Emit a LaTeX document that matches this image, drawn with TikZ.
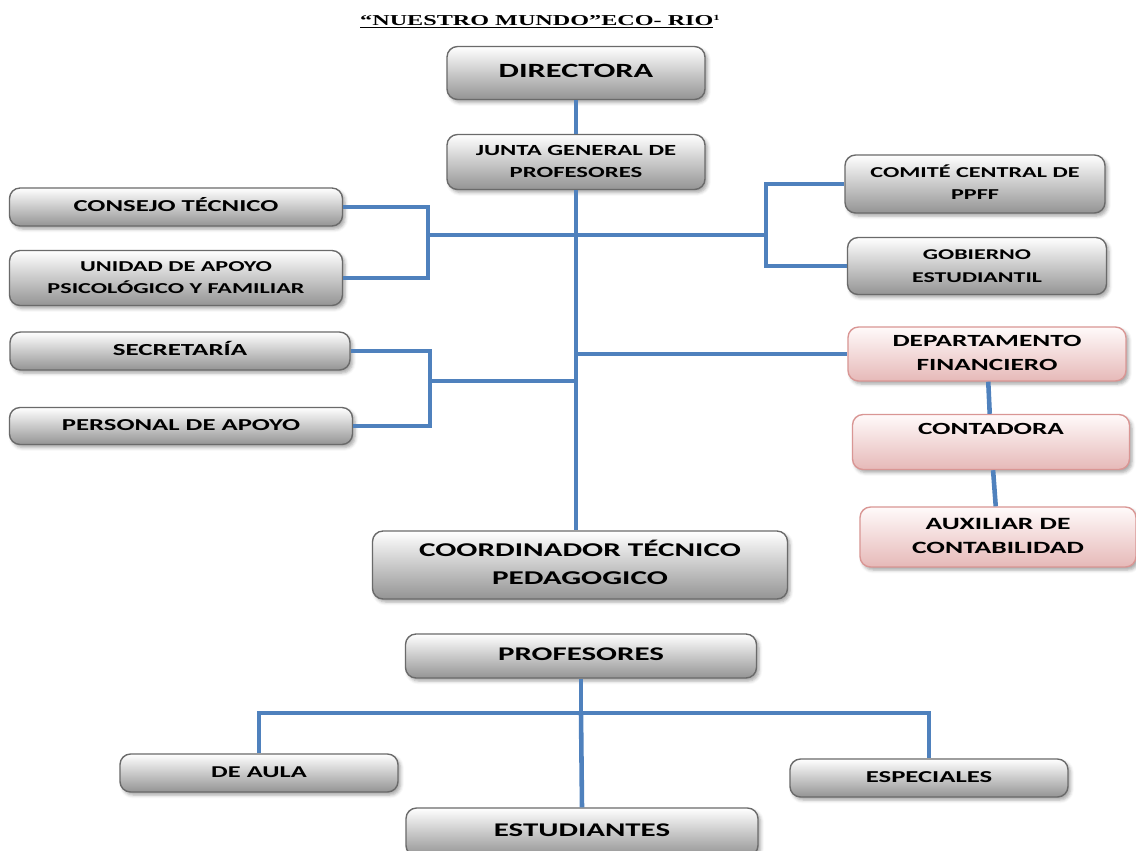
\documentclass[tikz,border=0pt]{standalone}
\usepackage{fontspec}
\setmainfont{Carlito}
\newfontfamily\titlefont{Liberation Serif}
\usepackage{graphicx}
\usetikzlibrary{shadows.blur,calc}
\definecolor{linkblue}{HTML}{4F81BD}
\definecolor{boxedge}{HTML}{6A6A6A}
\definecolor{pinkedge}{HTML}{D99694}
\definecolor{pinkfill}{HTML}{E6B9B8}
\newcommand{\wide}[2]{\scalebox{#1}[1]{\begin{tabular}{@{}c@{}}#2\end{tabular}}}

\begin{document}
\begin{tikzpicture}[
  x=0.02cm, y=-0.02cm,
  box/.style={rectangle, draw=boxedge, line width=0.8pt, rounded corners=6pt, top color=white, bottom color=black!42, align=center, inner sep=0pt,
    blur shadow={shadow blur steps=4, shadow xshift=0.5mm, shadow yshift=-0.6mm, shadow opacity=35}},
  pinkbox/.style={box, draw=pinkedge, top color=red!2, bottom color=pinkfill},
  wh/.style 2 args={minimum width=#1*0.02cm, minimum height=#2*0.02cm},
  fs/.style 2 args={font=\bfseries\fontsize{#1}{#2}\selectfont},
  link/.style={draw=linkblue, line width=2.6pt}
]
  \useasboundingbox (0,0) rectangle (1136,850);

  \node[font=\titlefont\bfseries\fontsize{8.6}{10}\selectfont] (title) at (540,22)
    {\scalebox{1.6}[1]{\underline{“NUESTRO MUNDO”ECO- RIO}\raisebox{0.7ex}{\fontsize{4.5}{5}\selectfont 1}}};

  \node[box, wh={258}{53}, fs={11.5}{14}] (directora) at (576,73) {\wide{1.6}{DIRECTORA}};
  \node[box, wh={258}{55}, fs={8.8}{13}] (junta) at (576,162) {\wide{1.6}{JUNTA GENERAL DE\\PROFESORES}};
  \node[box, wh={333}{38}, fs={9.5}{13}] (consejo) at (176,207) {\wide{1.6}{CONSEJO TÉCNICO}};
  \node[box, wh={333}{55}, fs={8.6}{12.5}] (unidad) at (176,278) {\wide{1.6}{UNIDAD DE APOYO\\PSICOLÓGICO Y FAMILIAR}};
  \node[box, wh={260}{58}, fs={8.6}{13}] (comite) at (975,184) {\wide{1.6}{COMITÉ CENTRAL DE\\PPFF}};
  \node[box, wh={259}{57}, fs={8.5}{13}] (gobierno) at (977,266) {\wide{1.6}{GOBIERNO\\ESTUDIANTIL}};
  \node[box, wh={340}{38}, fs={9.6}{13}] (secretaria) at (180,351) {\wide{1.6}{SECRETARÍA}};
  \node[box, wh={343}{37}, fs={9.5}{13}] (personal) at (181,426) {\wide{1.6}{PERSONAL DE APOYO}};
  \node[pinkbox, wh={278}{54}, fs={9.7}{13.5}] (depto) at (987,354) {\wide{1.6}{DEPARTAMENTO\\FINANCIERO}};
  \node[pinkbox, wh={277}{55}, fs={9.7}{13.5}] (contadora) at (991,442) {\wide{1.6}{CONTADORA\\\strut}};
  \node[pinkbox, wh={276}{60}, fs={9.8}{13.5}] (auxiliar) at (998,537) {\wide{1.6}{AUXILIAR DE\\CONTABILIDAD}};
  \node[box, wh={415}{68}, fs={11.1}{16}] (coordinador) at (580,565) {\wide{1.6}{COORDINADOR TÉCNICO\\PEDAGOGICO}};
  \node[box, wh={351}{44}, fs={11}{13}] (profesores) at (581,656) {\wide{1.6}{PROFESORES}};
  \node[box, wh={278}{38}, fs={9.4}{13}] (aula) at (259,773) {\wide{1.6}{DE AULA}};
  \node[box, wh={278}{38}, fs={9.5}{13}] (especiales) at (929,778) {\wide{1.6}{ESPECIALES}};
  \node[box, wh={352}{48}, fs={11}{13}] (estudiantes) at (582,832) {\wide{1.6}{ESTUDIANTES}};

  \coordinate (izq1) at (428,235);
  \coordinate (der1) at (766,235);
  \coordinate (izq2) at (430,381);
  \coordinate (bus) at (582,713);

  \draw[link] (directora) -- (junta);
  \draw[link] (junta.south) -- (junta.south |- coordinador.north);
  \draw[link] (consejo.east) -| (izq1) |- (unidad.east);
  \draw[link] (izq1) -- (der1);
  \draw[link] (comite.west) -| (der1) |- (gobierno.west);
  \draw[link] (secretaria.east) -| (izq2) |- (personal.east);
  \draw[link] (izq2) -- (izq2 -| junta.south);
  \draw[link] (depto.west -| junta.south) -- (depto.west);
  \draw[link] (depto) -- (contadora);
  \draw[link] (contadora) -- (auxiliar);
  \draw[link] (profesores.south) -- (profesores.south |- bus);
  \draw[link] (aula.north) -- (aula.north |- bus) -- (especiales.north |- bus) -- (especiales.north);
  \draw[link] (profesores.south |- bus) -- (estudiantes.north);
\end{tikzpicture}
\end{document}
